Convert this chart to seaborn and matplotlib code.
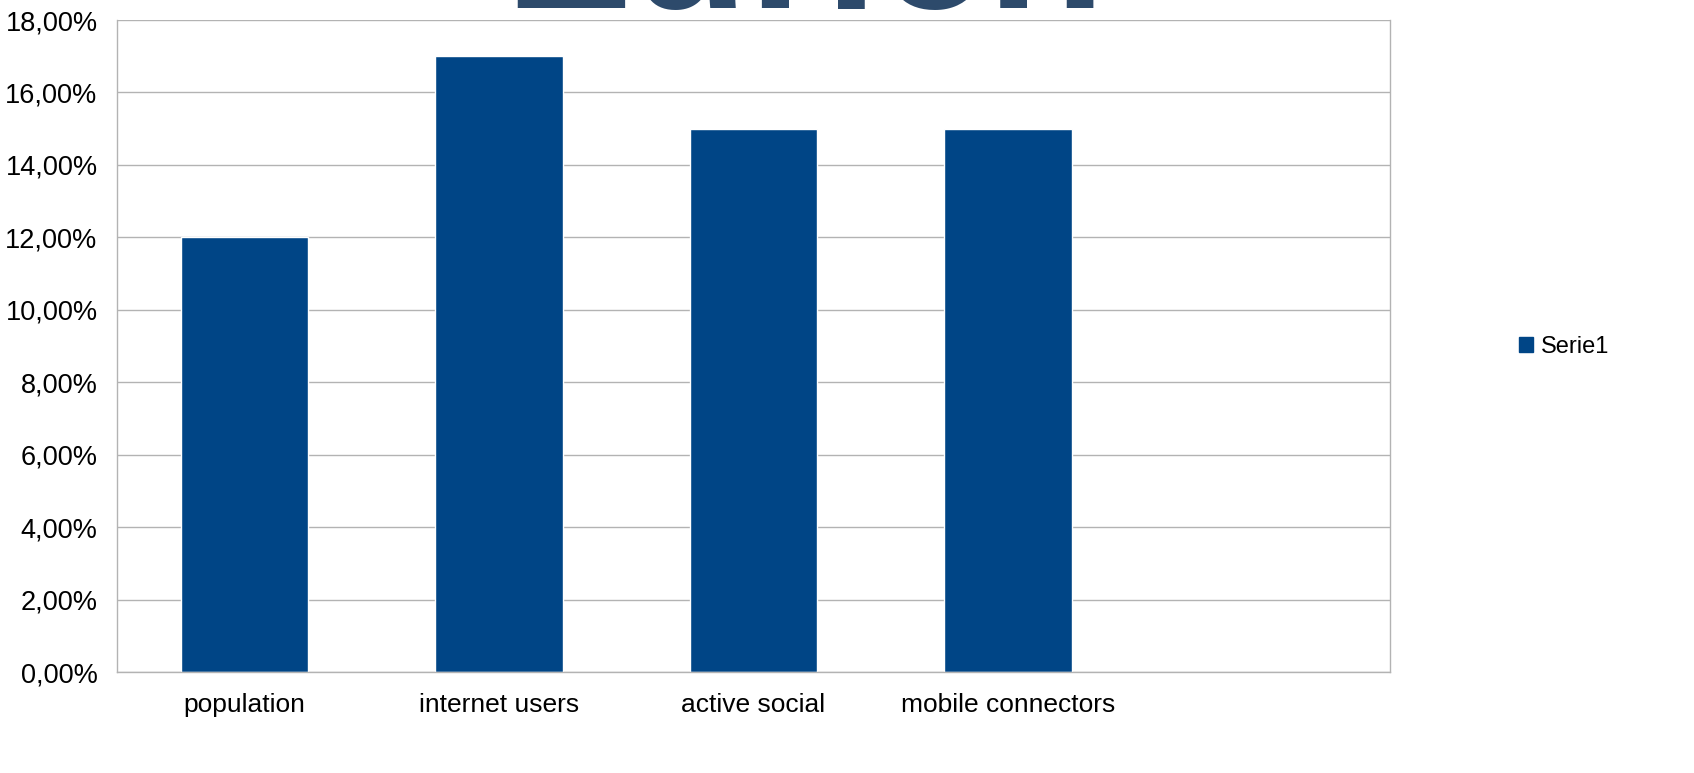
import matplotlib
matplotlib.use("Agg")
import pandas as pd
import seaborn as sns
import matplotlib.pyplot as plt
from matplotlib.ticker import FuncFormatter, FixedLocator, NullFormatter
from matplotlib.patches import Patch

categories = ["population", "internet users", "active social", "mobile connectors"]
values = [12, 17, 15, 15]
series_name = "Serie1"
title_text = "Zürich"

df = pd.DataFrame({"category": categories, "value": values})

sns.set_style("white")
plt.rcParams["font.family"] = ["Liberation Sans", "DejaVu Sans"]
plt.rcParams["text.color"] = "black"

fig = plt.figure(figsize=(16.94, 7.73), dpi=100)
ax = fig.add_axes([117 / 1694, 1 - 672 / 773, (1390 - 117) / 1694, (672 - 20) / 773])

sns.barplot(data=df, x="category", y="value", color="#004586", saturation=1,
            width=0.5, ax=ax)

ax.set_xlim(-0.5, 4.5)
ax.set_ylim(0, 18)
ax.set_yticks(range(0, 19, 2))
ax.yaxis.set_major_formatter(FuncFormatter(lambda v, p: f"{v:.2f}%".replace(".", ",")))
ax.grid(axis="y", color="#b3b3b3", linewidth=1)
ax.set_axisbelow(True)

# category labels in the middle, tick marks on the boundaries
ax.set_xticks(range(len(categories)))
ax.set_xticklabels(categories)
ax.tick_params(axis="x", which="major", length=0, labelsize=19, pad=15, labelcolor="black")
ax.xaxis.set_minor_locator(FixedLocator([i - 0.5 for i in range(6)]))
ax.xaxis.set_minor_formatter(NullFormatter())
ax.tick_params(axis="x", which="minor", length=10, color="#b3b3b3", width=1)
ax.tick_params(axis="y", length=8, color="#b3b3b3", width=1, labelsize=19.5, pad=6,
               labelcolor="black")

for s in ["left", "right", "bottom"]:
    ax.spines[s].set_visible(True)
    ax.spines[s].set_color("#b3b3b3")
    ax.spines[s].set_linewidth(1)
ax.spines["top"].set_visible(False)

ax.set_xlabel("")
ax.set_ylabel("")

fig.legend(handles=[Patch(color="#004586", label=series_name)], loc="center left",
           bbox_to_anchor=(1498 / 1694, 1 - 347 / 773), frameon=False, fontsize=17,
           handlelength=0.6, handleheight=0.6, handletextpad=0.3, labelcolor="black")

# title is mostly cut off above the figure
fig.text(808 / 1694, 1 - 8 / 773, title_text, ha="center", va="baseline", fontsize=140,
         color="#2d4a6b", fontweight="bold")

fig.savefig("out.png", dpi=100)
